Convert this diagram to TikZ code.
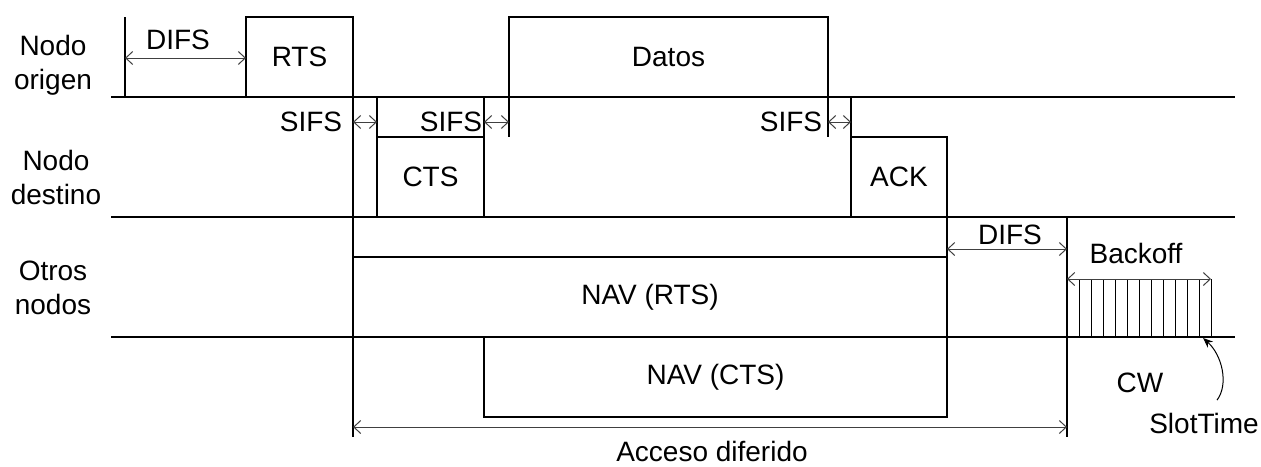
\documentclass[tikz,border=0pt]{standalone}
\usepackage{fontspec}
\setmainfont{Liberation Sans}
\usetikzlibrary{arrows.meta}

\tikzset{
  tbox/.style={draw, minimum height=40pt, inner sep=0pt, outer sep=0pt},
  dim/.style={line width=0.5pt, black!75,
    {Straight Barb[length=3.5pt,width=6.5pt]}-{Straight Barb[length=3.5pt,width=6.5pt]}},
  lab/.style={inner sep=0pt},
  rowlab/.style={align=center, inner sep=0pt}
}

\begin{document}
\begin{tikzpicture}[x=0.5pt, y=-0.5pt, line width=0.6pt, font=\fontsize{14}{17}\selectfont]
  \useasboundingbox (0,0) rectangle (1261,466);

  % stations
  \node[rowlab] (origen) at (53,65) {Nodo\\origen};
  \node[rowlab] (destino) at (56,177) {Nodo\\destino};
  \node[rowlab] (otros) at (53,288) {Otros\\nodos};

  % time lines
  \foreach \y in {97,217,337}{
    \draw (111,\y) -- (1235,\y);
  }

  % frames
  \node[tbox, minimum width=53.5pt] (rts) at (299.5,57) {RTS};
  \node[tbox, minimum width=159.5pt] (datos) at (668.5,57) {Datos};
  \node[tbox, minimum width=53.5pt] (cts) at (430.5,177) {CTS};
  \node[tbox, minimum width=48pt] (ack) at (899,177) {ACK};
  \node[tbox, minimum width=297pt] (navrts) at (650,297) {NAV (RTS)};
  \node[tbox, minimum width=231.5pt] (navcts) at (715.5,377) {NAV (CTS)};

  % marks
  \coordinate (t0) at (125,17);
  \coordinate (acc0) at (353,437);
  \coordinate (acc1) at (1067,437);
  \coordinate (sifs) at (0,137);
  \draw (t0) -- (t0 |- rts.south);
  \draw (rts.south east) -- (acc0);
  \draw (cts.north west) -- (cts.west |- rts.south);
  \draw (cts.north east) -- (cts.east |- rts.south);
  \draw (datos.south west) -- (datos.west |- sifs);
  \draw (datos.south east) -- (datos.east |- sifs);
  \draw (ack.north west) -- (ack.west |- rts.south);
  \draw (ack.south east) -- (navrts.north east);
  \draw (acc1 |- ack.south) -- (acc1);

  % backoff slots
  \foreach \k in {1,...,12}{
    \draw[line width=0.5pt] (1067+12*\k,279) -- (1067+12*\k,337);
  }

  % intervals
  \coordinate (d1) at (125,58);
  \coordinate (s1) at (353,122);
  \coordinate (d2) at (947,249);
  \coordinate (bo0) at (1067,279);
  \coordinate (bo1) at (1211,279);
  \draw[dim] (d1) -- (d1 -| rts.west);
  \draw[dim] (s1) -- (s1 -| cts.west);
  \draw[dim] (cts.east |- s1) -- (datos.west |- s1);
  \draw[dim] (datos.east |- s1) -- (ack.west |- s1);
  \draw[dim] (d2) -- (d2 -| acc1);
  \draw[dim] (bo0) -- (bo1);
  \draw[dim] (acc0 |- 0,427) -- (acc1 |- 0,427);

  \node[lab] (difs1) at (178,40) {DIFS};
  \node[lab] (sifs1) at (311,122) {SIFS};
  \node[lab] (sifs2) at (451,122) {SIFS};
  \node[lab] (sifs3) at (791,122) {SIFS};
  \node[lab] (difs2) at (1010,235) {DIFS};
  \node[lab] (backoff) at (1136,253) {Backoff};
  \node[lab] (cw) at (1140,383) {CW};
  \node[lab] (slottime) at (1204,423) {SlotTime};
  \node[lab] (acceso) at (712,451) {Acceso diferido};

  \coordinate (slotend) at (1203,338);
  \draw[line width=0.5pt, -{Stealth[length=5pt,width=4pt]}]
    ([shift={(13,-12)}]slottime.north) .. controls +(12,-16) and +(19,17) .. (slotend);
\end{tikzpicture}
\end{document}
